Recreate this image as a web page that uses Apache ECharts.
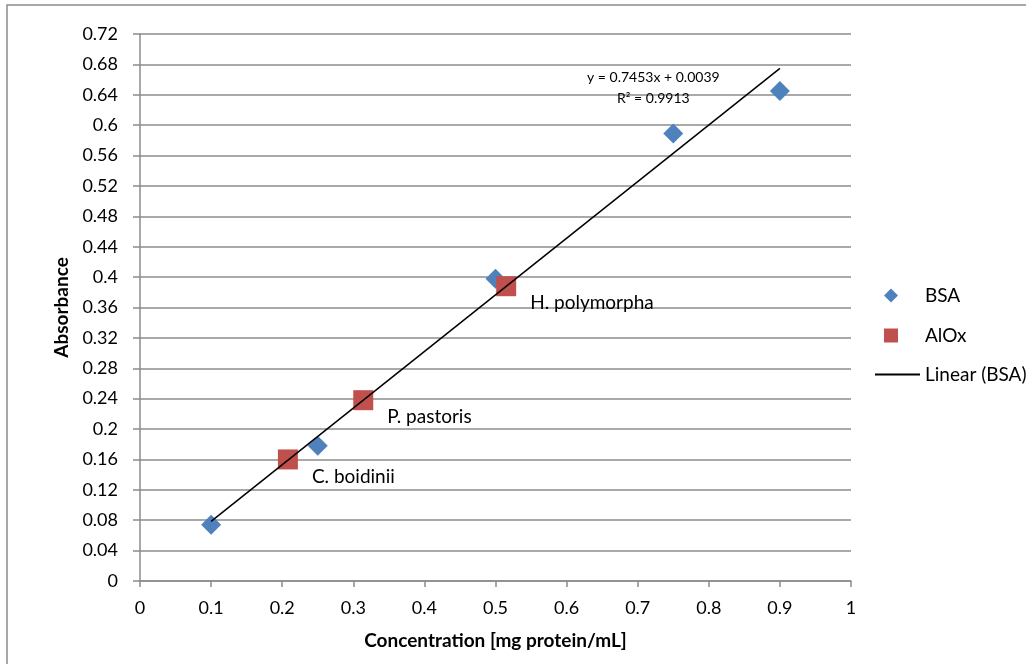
<!DOCTYPE html>
<html>
<head>
<meta charset="utf-8">
<script src="https://cdn.jsdelivr.net/npm/echarts@6/dist/echarts.min.js"></script>
<style>html,body{margin:0;padding:0;background:#fff}#c{width:1026px;height:664px}</style>
</head>
<body>
<div id="c"></div>
<script>
var bsaX = [0.1, 0.25, 0.5, 0.75, 0.9];
var bsaY = [0.074, 0.178, 0.398, 0.589, 0.645];
var aloxX = [0.208, 0.314, 0.515];
var aloxY = [0.160, 0.238, 0.388];
var aloxNames = ['C. boidinii', 'P. pastoris', 'H. polymorpha'];
var slope = 0.7453, intercept = 0.0039;
var trendX = [0.1, 0.9];
var eqText = 'y = 0.7453x + 0.0039';
var r2Text = 'R² = 0.9913';
var eqAnchor = [0.722, 0.662];

var font = 'Lato, "Open Sans", sans-serif';
var chart = echarts.init(document.getElementById('c'));
var bsaData = bsaX.map(function(x, i){ return [x, bsaY[i]]; });
var aloxData = aloxX.map(function(x, i){ return {value: [x, aloxY[i]], name: aloxNames[i]}; });
var trendData = trendX.map(function(x){ return [x, slope * x + intercept]; });

chart.setOption({
  animation: false,
  textStyle: {fontFamily: font},
  grid: {left: 140, right: 175, top: 34, bottom: 83},
  legend: [
    {
      orient: 'vertical', left: 879, top: 281, itemGap: 21,
      itemWidth: 14, itemHeight: 14,
      textStyle: {fontSize: 19, color: '#000', fontFamily: font, padding: [0, 0, 0, 22]},
      data: [
        {name: 'BSA', icon: 'diamond', itemStyle: {color: '#4F81BD', opacity: 1}},
        {name: 'AlOx', icon: 'rect', itemStyle: {color: '#C0504D', opacity: 1}}
      ]
    },
    {
      orient: 'vertical', left: 870, top: 360,
      itemWidth: 45, itemHeight: 2,
      textStyle: {fontSize: 19, color: '#000', fontFamily: font},
      data: [{name: 'Linear (BSA)', icon: 'rect', itemStyle: {color: '#000'}}]
    }
  ],
  xAxis: {
    type: 'value', min: 0, max: 1, interval: 0.1,
    name: 'Concentration [mg protein/mL]', nameLocation: 'middle', nameGap: 50,
    nameTextStyle: {fontSize: 19, fontWeight: 'bold', color: '#000', fontFamily: font},
    axisLine: {show: true, lineStyle: {color: '#8c8c8c', width: 1.5}},
    axisTick: {show: true, length: 6, lineStyle: {color: '#8c8c8c', width: 1.5}},
    axisLabel: {fontSize: 18, color: '#000', margin: 18, formatter: function(v){ return String(+v.toFixed(1)); }},
    splitLine: {show: false}
  },
  yAxis: {
    type: 'value', min: 0, max: 0.72, interval: 0.04,
    name: 'Absorbance', nameLocation: 'middle', nameGap: 68,
    nameTextStyle: {fontSize: 19, fontWeight: 'bold', color: '#000', fontFamily: font},
    axisLine: {show: true, lineStyle: {color: '#8c8c8c', width: 1.5}},
    axisTick: {show: true, length: 7, lineStyle: {color: '#8c8c8c', width: 1.5}},
    axisLabel: {fontSize: 18, color: '#000', margin: 22, formatter: function(v){ return String(+v.toFixed(2)); }},
    splitLine: {show: true, lineStyle: {color: '#8c8c8c', width: 1.5}}
  },
  series: [
    {
      name: 'Linear (BSA)', type: 'line', data: trendData, symbol: 'none', z: 3,
      lineStyle: {color: '#000', width: 1.5}, itemStyle: {color: '#000'}
    },
    {
      name: 'BSA', type: 'scatter', data: bsaData, symbol: 'diamond', symbolSize: 20, z: 2,
      itemStyle: {color: '#4F81BD', opacity: 1}
    },
    {
      name: 'AlOx', type: 'scatter', data: aloxData, symbol: 'rect', symbolSize: 20, z: 2,
      itemStyle: {color: '#C0504D', opacity: 1},
      label: {show: true, formatter: '{b}', position: 'right', offset: [9, 17], fontSize: 19, color: '#000', fontFamily: font}
    }
  ]
});

var p = chart.convertToPixel({gridIndex: 0}, eqAnchor);
chart.setOption({
  graphic: [
    {type: 'rect', shape: {x: 7, y: 5, width: 1040, height: 700}, style: {fill: 'none', stroke: '#8c8c8c', lineWidth: 1.5}, silent: true},
    {type: 'text', x: p[0], y: p[1] - 11, style: {text: eqText + '\n' + r2Text, font: '14px ' + font, fill: '#000', align: 'center', verticalAlign: 'top', lineHeight: 21}, z: 10}
  ]
});
</script>
</body>
</html>
